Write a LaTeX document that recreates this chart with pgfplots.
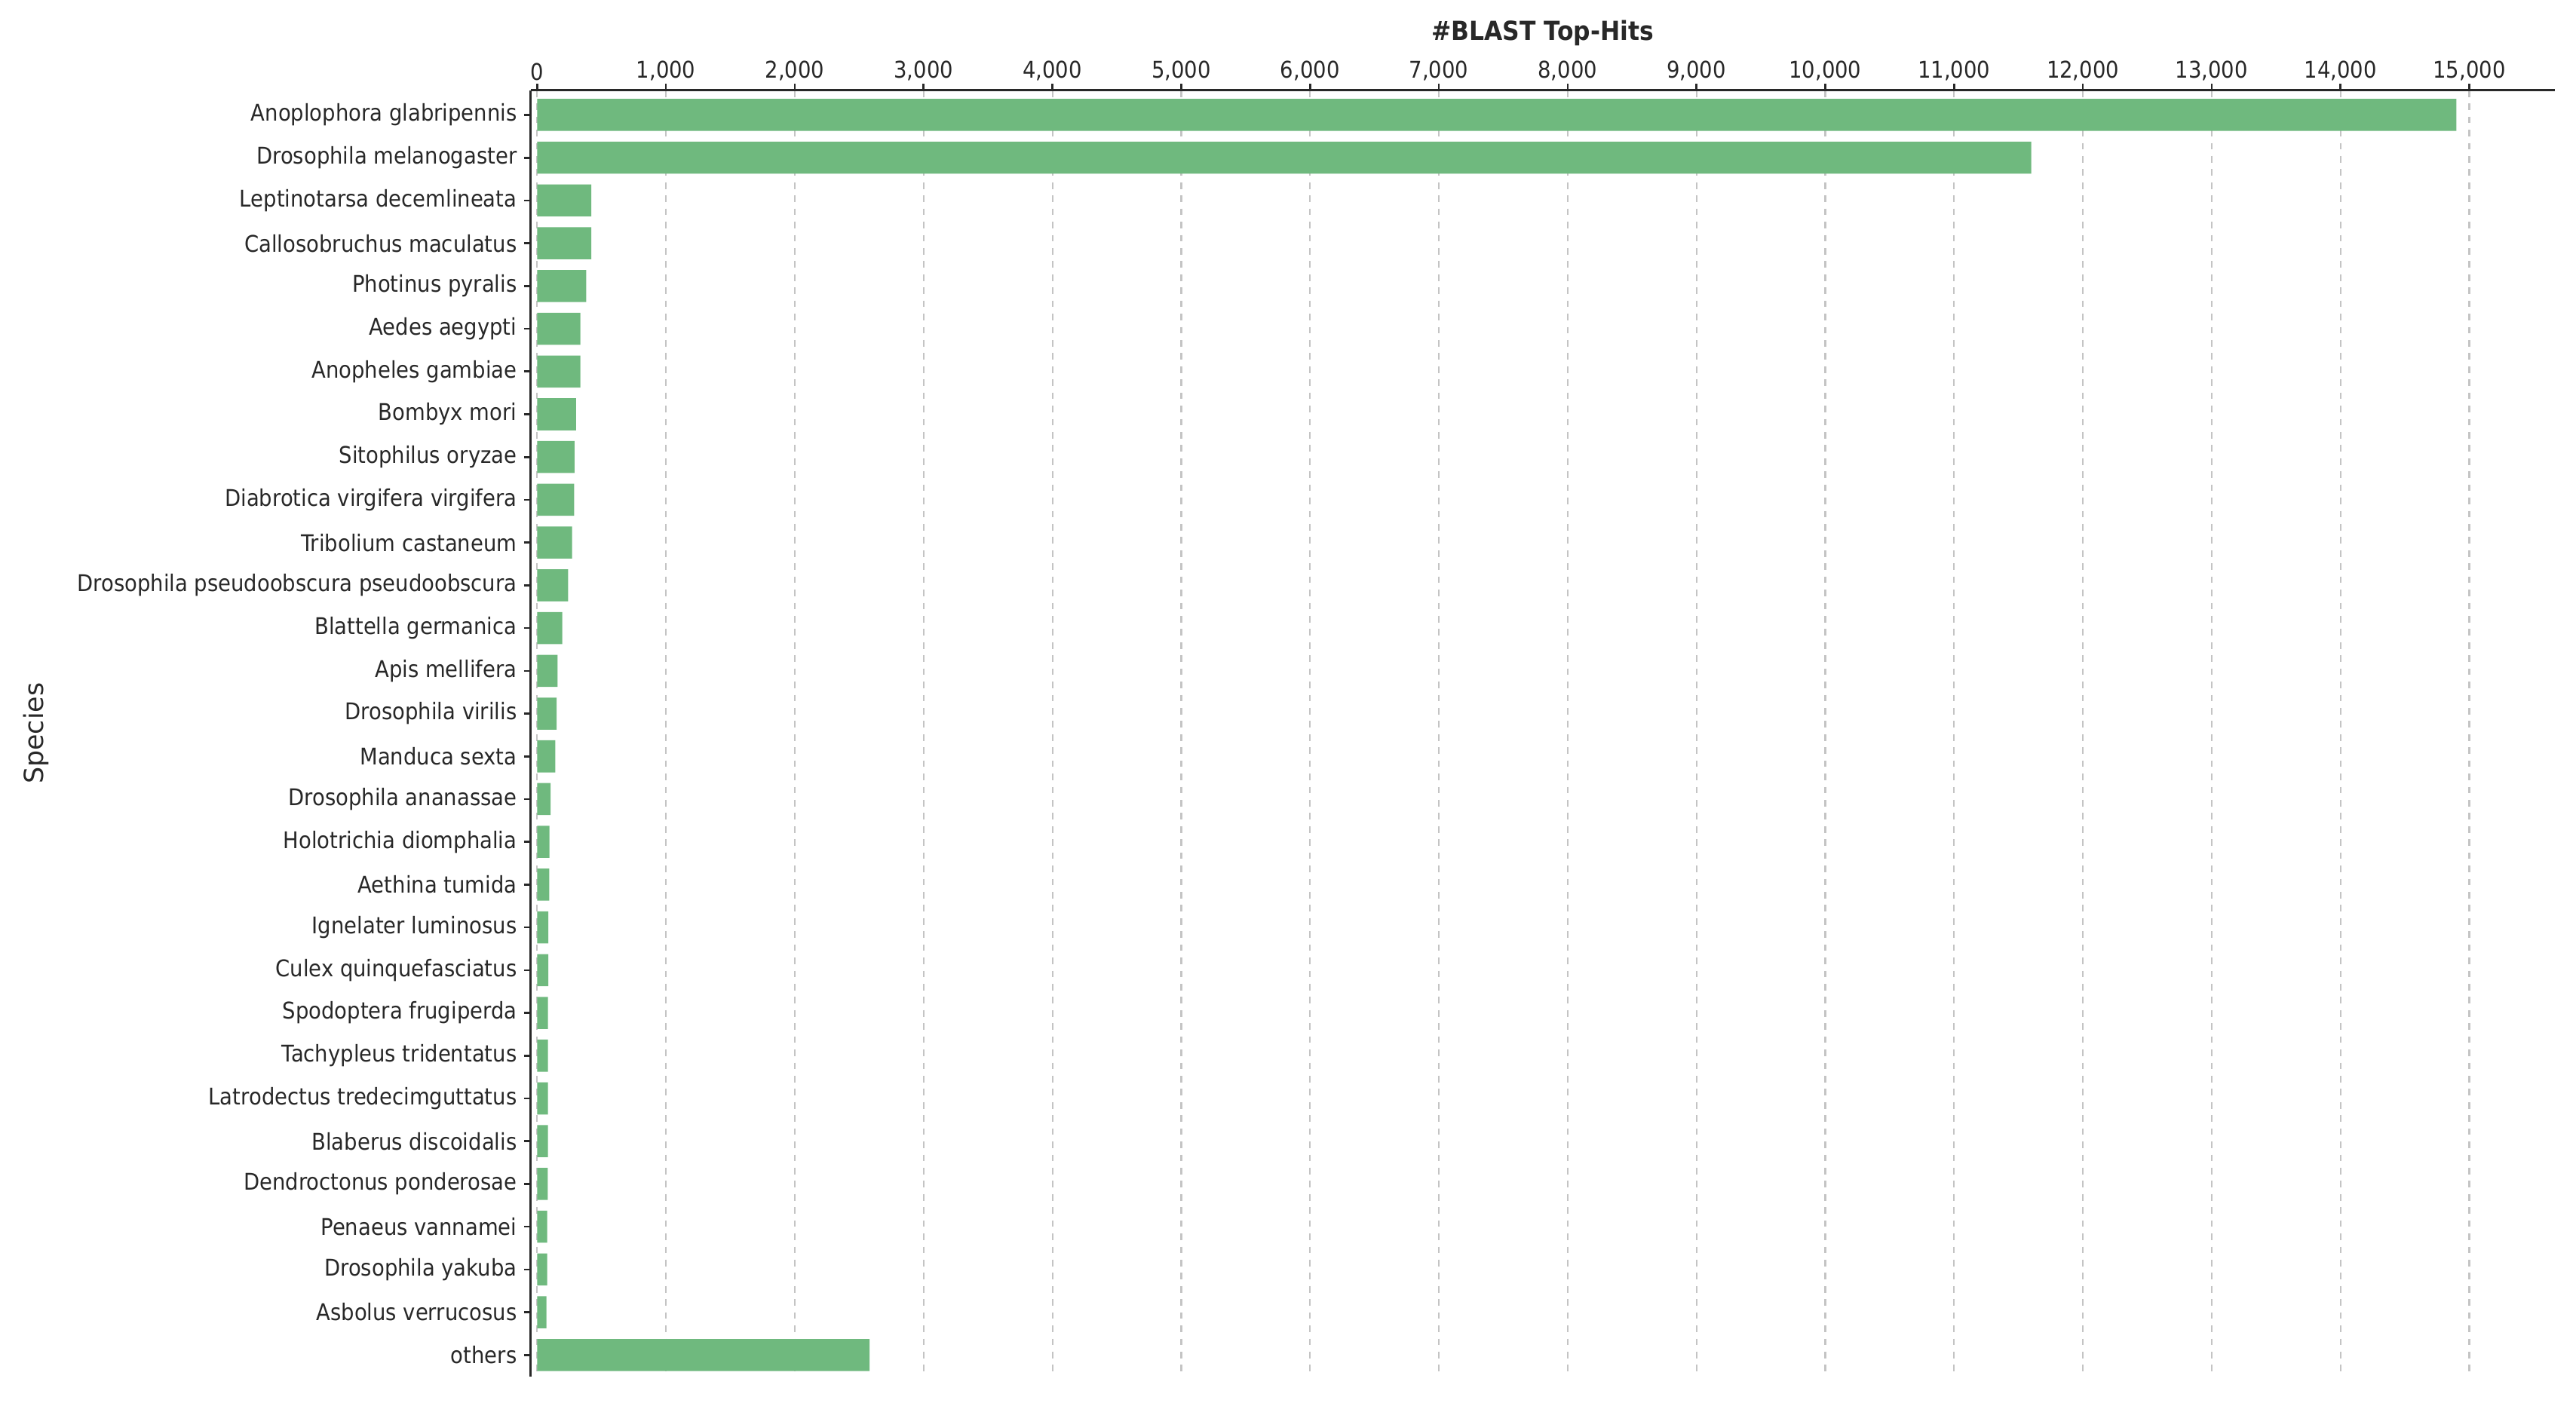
\documentclass[border=0pt]{standalone}
\usepackage{pgfplots}
\pgfplotsset{compat=1.18}
\usepackage{pgfplotstable}
\usepackage{fontspec}
\setmainfont{DejaVu Sans}[FakeStretch=0.9]
\newfontfamily\spcfont{DejaVu Sans}
\usetikzlibrary{calc}
\definecolor{barg}{RGB}{111,185,126}
\definecolor{txt}{RGB}{40,40,40}
\definecolor{gridc}{RGB}{196,196,196}

\pgfplotstableread{
idx hits
0 14900
1 11600
2 420
3 420
4 380
5 335
6 335
7 302
8 290
9 287
10 271
11 240
12 195
13 158
14 150
15 140
16 104
17 95
18 94
19 87
20 86
21 84
22 84
23 84
24 83
25 82
26 78
27 77
28 72
29 2580
}\hits

\begin{document}
\begin{tikzpicture}
\begin{axis}[
  scale only axis,
  width=616pt, height=391.5pt,
  xbar, bar width=0.75,
  y dir=reverse,
  xmin=-51, xmax=15663,
  ymin=-0.576, ymax=29.5,
  enlargelimits=false,
  axis x line*=top,
  axis y line*=left,
  axis line style={line width=0.7pt, color=txt},
  xtick={0,1000,...,15000},
  ytick={0,...,29},
  yticklabels={Anoplophora glabripennis, Drosophila melanogaster, Leptinotarsa decemlineata, Callosobruchus maculatus, Photinus pyralis, Aedes aegypti, Anopheles gambiae, Bombyx mori, Sitophilus oryzae, Diabrotica virgifera virgifera, Tribolium castaneum, Drosophila pseudoobscura pseudoobscura, Blattella germanica, Apis mellifera, Drosophila virilis, Manduca sexta, Drosophila ananassae, Holotrichia diomphalia, Aethina tumida, Ignelater luminosus, Culex quinquefasciatus, Spodoptera frugiperda, Tachypleus tridentatus, Latrodectus tredecimguttatus, Blaberus discoidalis, Dendroctonus ponderosae, Penaeus vannamei, Drosophila yakuba, Asbolus verrucosus, others},
  tick align=outside,
  major tick length=2pt,
  tick style={line width=0.6pt, color=txt},
  xmajorgrids,
  major grid style={gridc, line width=0.5pt, dash pattern=on 2pt off 2pt},
  scaled x ticks=false,
  /pgf/number format/assume math mode=true,
  /pgf/number format/1000 sep={,},
  xticklabel style={font=\fontsize{7}{8}\selectfont, text=txt, inner sep=0pt, yshift=0.8pt},
  yticklabel style={font=\fontsize{7}{8}\selectfont, text=txt, inner sep=0pt, xshift=-2pt},
  clip=false,
]
\addplot[fill=barg, draw=none] table[x=hits, y=idx] {\hits};
\end{axis}
\node[font=\bfseries\fontsize{8}{9}\selectfont, text=txt] at ($(current axis.north)+(0,17.5pt)$) {\#BLAST Top-Hits};
\node[font=\spcfont\fontsize{8}{9}\selectfont, text=txt, rotate=90] at ($(current axis.west)+(-150.5pt,0)$) {Species};
\path ($(current axis.south west)+(-161.5pt,-8pt)$) rectangle ($(current axis.north east)+(6.5pt,27.5pt)$);
\end{tikzpicture}
\end{document}
